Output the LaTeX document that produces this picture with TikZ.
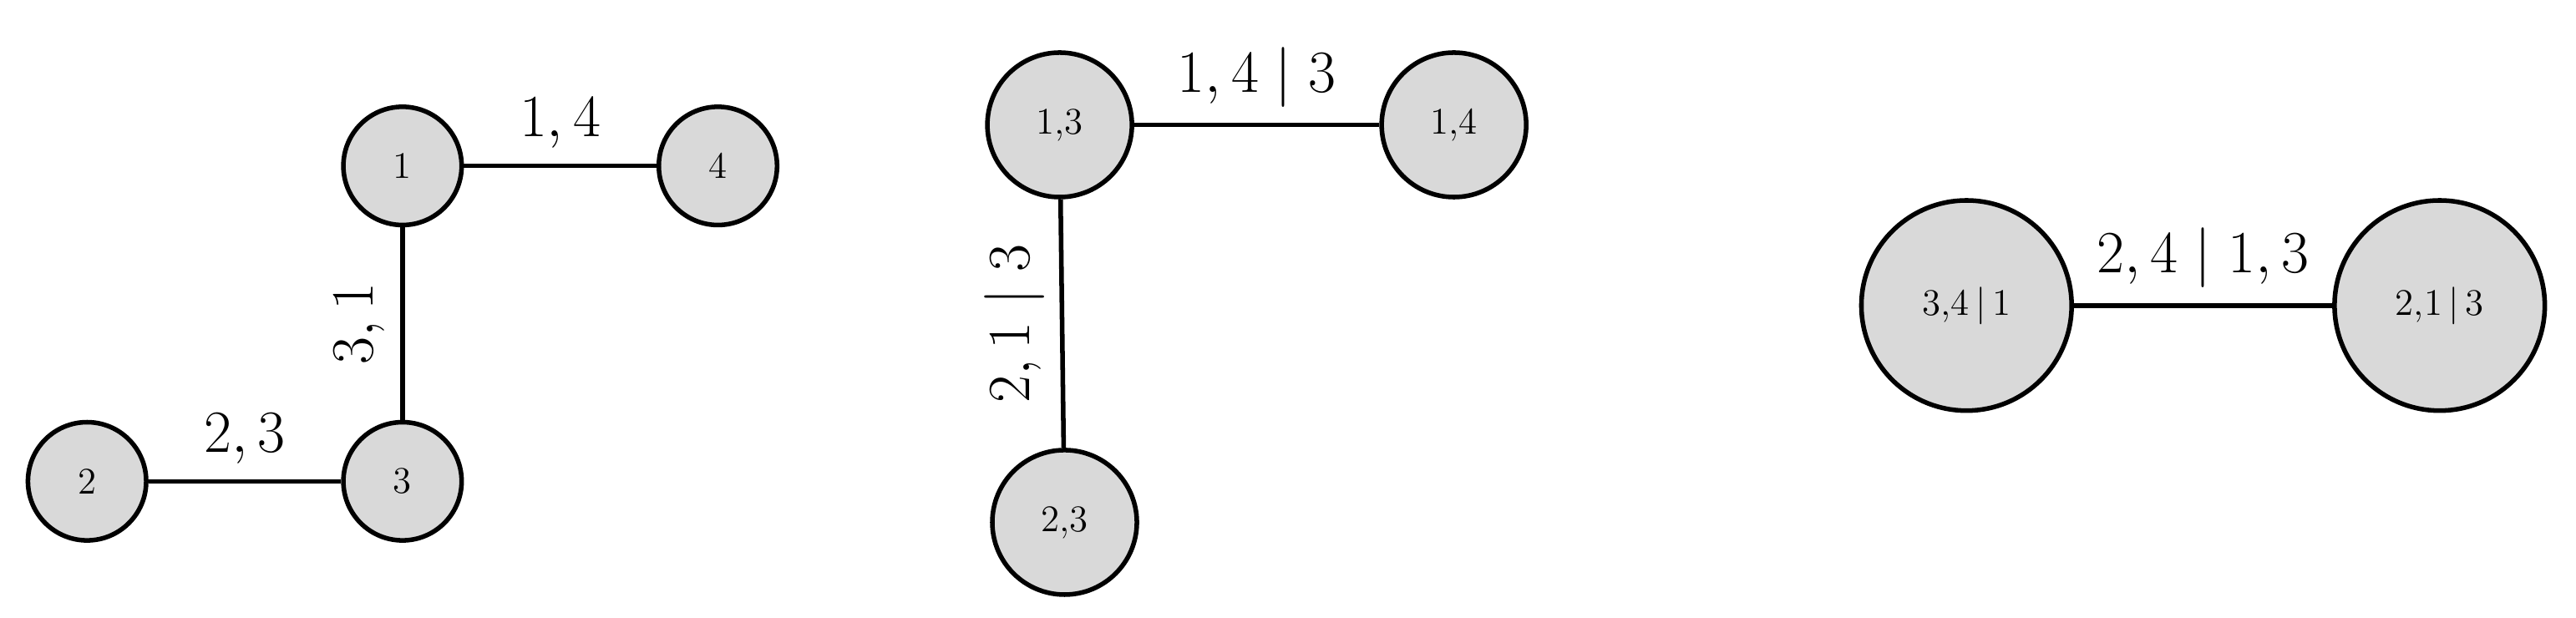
\documentclass[tikz,border=0pt]{standalone}
\begin{document}
\begin{tikzpicture}[x=0.02cm,y=-0.02cm,
  v/.style={circle,draw,line width=1.6pt,fill=gray!30,inner sep=0pt,font=\fontsize{13}{15}\selectfont},
  s/.style={v,minimum size=1.44cm},
  m/.style={v,minimum size=1.76cm},
  b/.style={v,minimum size=2.56cm},
  e/.style={line width=1.6pt},
  lab/.style={font=\fontsize{20}{24}\selectfont}]
\useasboundingbox (0,0) rectangle (1568,376);
\node[s] (n1) at (245,101) {1};
\node[s] (n4) at (437,101) {4};
\node[s] (n3) at (245,293) {3};
\node[s] (n2) at (53,293) {2};
\draw[e] (n1) -- node[lab,above=2pt] {$1,4$} (n4);
\draw[e] (n1) -- node[lab,rotate=90,above=2pt] {$3,1$} (n3);
\draw[e] (n2) -- node[lab,above=2pt] {$2,3$} (n3);
\node[m] (a) at (645,76) {1,3};
\node[m] (b) at (885,76) {1,4};
\node[m] (c) at (648,318) {2,3};
\draw[e] (a) -- node[lab,above=2pt] {$1,4\mid 3$} (b);
\draw[e] (a) -- node[lab,rotate=90,above=2pt] {$2,1\mid 3$} (c);
\node[b] (p) at (1197,186) {3,4\,|\,1};
\node[b] (q) at (1485,186) {2,1\,|\,3};
\draw[e] (p) -- node[lab,above=2pt] {$2,4\mid 1,3$} (q);
\end{tikzpicture}
\end{document}
